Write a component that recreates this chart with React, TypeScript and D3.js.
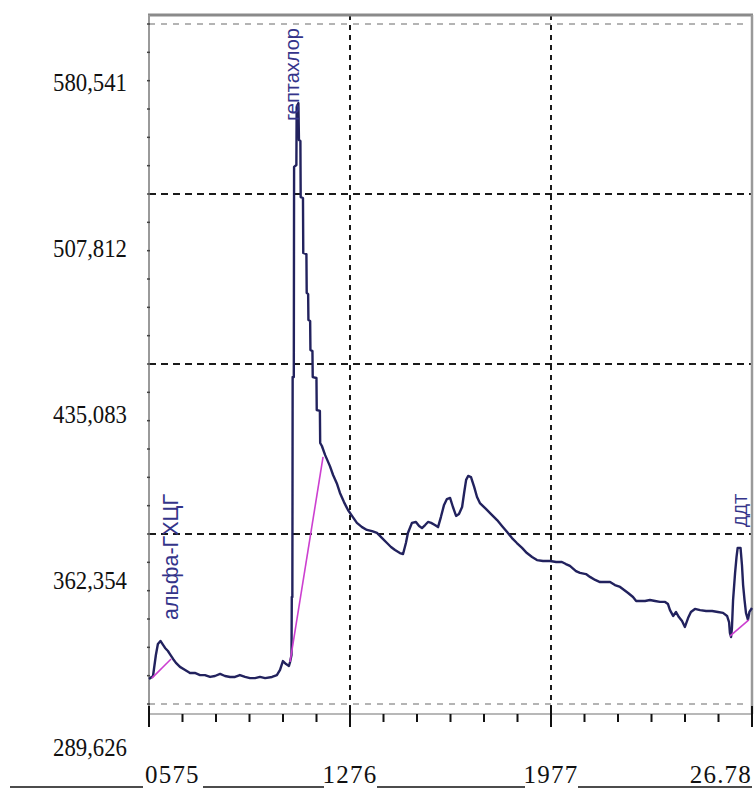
import React from "react";
import * as d3 from "d3";

// ---- data ----
const xTicks = [5.75, 12.76, 19.77, 26.78];
const xTickLabels = ["0575", "1276", "1977", "26.78"];
const yTicks = [289.626, 362.354, 435.083, 507.812, 580.541];
const yTickLabels = ["289,626", "362,354", "435,083", "507,812", "580,541"];

// retention time (min) and detector signal
const traceT = [
  5.75, 5.89, 5.99, 6.06, 6.15, 6.24, 6.31, 6.41, 6.48, 6.59, 6.69, 6.83, 7.01, 7.18, 7.35, 7.53, 7.7, 7.88, 8.05, 8.23,
  8.4, 8.58, 8.75, 8.92, 9.1, 9.27, 9.45, 9.62, 9.8, 10.04, 10.21, 10.32, 10.42, 10.53, 10.63, 10.67, 10.72, 10.73, 10.75, 10.76,
  10.8, 10.81, 10.89, 10.9, 10.96, 10.98, 11.03, 11.04, 11.12, 11.13, 11.24, 11.25, 11.3, 11.31, 11.37, 11.38, 11.45, 11.46, 11.59, 11.6,
  11.71, 11.72, 11.78, 11.89, 12.06, 12.17, 12.31, 12.41, 12.55, 12.69, 12.83, 13.0, 13.18, 13.35, 13.53, 13.7, 13.88, 14.05, 14.19, 14.33,
  14.5, 14.61, 14.71, 14.78, 14.92, 15.06, 15.17, 15.27, 15.38, 15.48, 15.59, 15.72, 15.83, 15.93, 16.04, 16.14, 16.25, 16.35, 16.46, 16.56,
  16.67, 16.74, 16.81, 16.88, 16.98, 17.09, 17.19, 17.29, 17.5, 17.68, 17.89, 18.06, 18.24, 18.41, 18.58, 18.76, 18.93, 19.11, 19.28, 19.49,
  19.74, 19.95, 20.15, 20.29, 20.43, 20.64, 20.78, 20.99, 21.13, 21.31, 21.48, 21.65, 21.83, 22.0, 22.18, 22.32, 22.46, 22.63, 22.74, 22.87,
  23.05, 23.22, 23.4, 23.57, 23.75, 23.85, 23.92, 24.03, 24.13, 24.23, 24.34, 24.44, 24.55, 24.65, 24.79, 24.97, 25.18, 25.39, 25.59, 25.77,
  25.91, 25.98, 26.01, 26.05, 26.08, 26.12, 26.19, 26.24, 26.28, 26.38, 26.43, 26.47, 26.52, 26.57, 26.64, 26.69, 26.78,
];
const traceV = [
  300.3, 301.6, 310.6, 315.3, 316.6, 314.9, 313.6, 312.3, 311.0, 308.9, 307.2, 305.5, 304.2, 302.9, 302.9, 302.0, 302.0, 301.2, 301.6, 302.5,
  301.6, 301.2, 301.2, 302.0, 301.2, 300.7, 300.7, 301.2, 300.7, 301.2, 302.0, 304.2, 308.0, 306.7, 305.9, 307.6, 310.6, 335.4, 335.4, 429.5,
  429.5, 519.4, 520.2, 545.0, 546.7, 530.9, 530.5, 506.5, 506.1, 482.6, 482.1, 465.5, 465.0, 453.9, 453.5, 441.1, 440.6, 429.5, 429.1, 415.4,
  415.0, 401.3, 400.0, 396.2, 391.4, 387.6, 383.7, 379.9, 376.0, 372.6, 370.1, 367.1, 365.3, 364.1, 363.6, 362.8, 360.6, 358.5, 356.8, 355.5,
  354.2, 353.8, 358.5, 362.8, 367.1, 367.5, 365.8, 364.9, 366.2, 367.5, 367.1, 366.2, 365.3, 369.6, 374.8, 377.3, 377.8, 373.9, 370.1, 370.9,
  373.9, 379.9, 385.5, 387.2, 386.7, 382.5, 378.2, 375.6, 373.1, 370.9, 368.3, 365.8, 363.2, 360.6, 358.5, 356.4, 354.2, 352.5, 351.2, 350.8,
  350.8, 350.4, 350.4, 349.5, 348.7, 346.5, 345.7, 345.2, 344.0, 342.7, 341.8, 341.8, 341.8, 340.5, 339.7, 338.4, 337.1, 335.4, 333.7, 333.7,
  333.7, 334.1, 333.7, 333.3, 333.3, 332.4, 329.8, 327.3, 329.0, 326.8, 325.1, 322.6, 326.4, 329.0, 330.3, 329.8, 329.4, 329.4, 329.0, 328.6,
  327.3, 324.7, 320.0, 318.3, 322.1, 334.1, 345.7, 352.5, 356.4, 356.4, 349.1, 340.5, 334.1, 328.6, 325.6, 329.0, 330.7,
];

// integration baselines
const baselineStartT = [5.85, 10.67, 26.01];
const baselineStartV = [300.7, 307.6, 318.7];
const baselineEndT = [6.52, 11.82, 26.67];
const baselineEndV = [308.9, 395.3, 325.6];

// peak names and apex
const peakNames = ["альфа-ГХЦГ", "гептахлор", "ДДТ"];
const peakApexT = [6.15, 10.96, 26.33];
const peakApexV = [316.6, 546.7, 356.4];

// ---- style ----
const W = 755;
const H = 812;
const plotLeft = 149;
const plotRight = 752;
const plotTop = 24;
const plotBottom = 704;
const frameTop = 15;
const axisY = 714;
const labelStyle = [
  { dx: 18, size: 21.5 },
  { dx: 1, size: 20 },
  { dx: 8, size: 17 },
];

export default function App() {
  const x = d3.scaleLinear().domain([xTicks[0], xTicks[xTicks.length - 1]]).range([plotLeft, plotRight]);
  const y = d3.scaleLinear().domain([yTicks[0], yTicks[yTicks.length - 1]]).range([plotBottom, plotTop]);
  const yLab = d3.scaleLinear().domain([yTicks[0], yTicks[yTicks.length - 1]]).range([747, 82]);

  const pts: [number, number][] = traceT.map((t, i) => [t, traceV[i]]);
  const line = d3
    .line<[number, number]>()
    .x((d) => x(d[0]))
    .y((d) => y(d[1]));

  const xStep = (xTicks[1] - xTicks[0]) / 6;
  const minorX = d3.range(0, 19).map((i) => xTicks[0] + i * xStep);
  const yStep = (yTicks[1] - yTicks[0]) / 6;
  const minorY = d3.range(0, 25).map((i) => yTicks[0] + i * yStep);

  const navy = "#22225e";
  const labelColor = "#34348a";

  const lx = xTicks.map((t) => x(t));
  const underY = 787;
  const segs: [number, number][] = [
    [10, lx[0] - 6],
    [lx[0] + 54, lx[1] - 26],
    [lx[1] + 27, lx[2] - 26],
    [lx[2] + 27, lx[3]],
  ];

  return (
    <svg width={W} height={H} style={{ position: "absolute", left: 0, top: 0, background: "#fff" }}>
      <rect x={0} y={0} width={W} height={H} fill="#fff" />
      {[yTicks[0], yTicks[yTicks.length - 1]].map((v, i) => (
        <line key={"lg" + i} x1={plotLeft} x2={plotRight - 4} y1={y(v)} y2={y(v)} stroke="#b4b4b4" strokeWidth={2} strokeDasharray="6,6" />
      ))}
      {yTicks.slice(1, -1).map((v, i) => (
        <line key={"hg" + i} x1={plotLeft} x2={plotRight} y1={y(v)} y2={y(v)} stroke="#1a1a1a" strokeWidth={2} strokeDasharray="7,5" />
      ))}
      {xTicks.slice(1, -1).map((t, i) => (
        <line key={"vg" + i} x1={x(t)} x2={x(t)} y1={frameTop} y2={axisY} stroke="#1a1a1a" strokeWidth={2} strokeDasharray="5,5" />
      ))}
      <line x1={plotLeft - 1} x2={plotRight + 1} y1={frameTop} y2={frameTop} stroke="#8a8a8a" strokeWidth={3} />
      <line x1={plotLeft} x2={plotLeft} y1={frameTop} y2={axisY} stroke="#9a9a9a" strokeWidth={2} />
      <line x1={plotRight} x2={plotRight} y1={frameTop} y2={axisY} stroke="#9a9a9a" strokeWidth={2.5} />
      <line x1={plotLeft} x2={plotRight} y1={axisY} y2={axisY} stroke="#a0a0a0" strokeWidth={1.5} />
      {minorY.map((v, i) => (
        <line key={"ly" + i} x1={plotLeft - 2} x2={plotLeft + 1} y1={y(v)} y2={y(v)} stroke="#444" strokeWidth={1.5} />
      ))}
      {minorX.map((t, i) => {
        const major = i % 6 === 0;
        return (
          <line
            key={"bx" + i}
            x1={x(t)}
            x2={x(t)}
            y1={major ? axisY - 8 : axisY}
            y2={major ? axisY + 13 : axisY + 8}
            stroke="#111"
            strokeWidth={2}
          />
        );
      })}
      <path d={line(pts) || ""} fill="none" stroke={navy} strokeWidth={2.4} strokeLinejoin="round" />
      {baselineStartT.map((t, i) => (
        <line
          key={"bl" + i}
          x1={x(t)}
          y1={y(baselineStartV[i])}
          x2={x(baselineEndT[i])}
          y2={y(baselineEndV[i])}
          stroke="#cc3fd0"
          strokeWidth={1.6}
        />
      ))}
      {peakNames.map((name, i) => {
        const st = labelStyle[i];
        const px = x(peakApexT[i]) + st.dx;
        const estLen = st.size * 0.56 * name.length;
        let py = y(peakApexV[i]) - 21;
        let anchor = "start";
        if (py - estLen < plotTop + 4) {
          py = plotTop + 4;
          anchor = "end";
        }
        return (
          <text
            key={"pl" + i}
            transform={`translate(${px},${py}) rotate(-90)`}
            textAnchor={anchor}
            fontFamily="Liberation Sans, Arial, sans-serif"
            fontSize={st.size}
            fill={labelColor}
          >
            {name}
          </text>
        );
      })}
      {yTicks.map((v, i) => (
        <text
          key={"yl" + i}
          x={53}
          y={yLab(v)}
          dominantBaseline="central"
          fontFamily="Liberation Serif, Times New Roman, serif"
          fontSize={26}
          textLength={74}
          lengthAdjust="spacingAndGlyphs"
          fill="#111"
        >
          {yTickLabels[i]}
        </text>
      ))}
      {xTickLabels.map((lab, i) => {
        const anchor = i === 0 ? "start" : i === xTickLabels.length - 1 ? "end" : "middle";
        return (
          <text
            key={"xl" + i}
            x={i === 0 ? lx[i] - 4 : lx[i]}
            y={underY - 4}
            textAnchor={anchor}
            fontFamily="Liberation Serif, Times New Roman, serif"
            fontSize={25}
            letterSpacing={1.2}
            fill="#111"
          >
            {lab}
          </text>
        );
      })}
      {segs.map((s, i) => (
        <line key={"us" + i} x1={s[0]} x2={s[1]} y1={underY} y2={underY} stroke="#111" strokeWidth={1.4} />
      ))}
    </svg>
  );
}
